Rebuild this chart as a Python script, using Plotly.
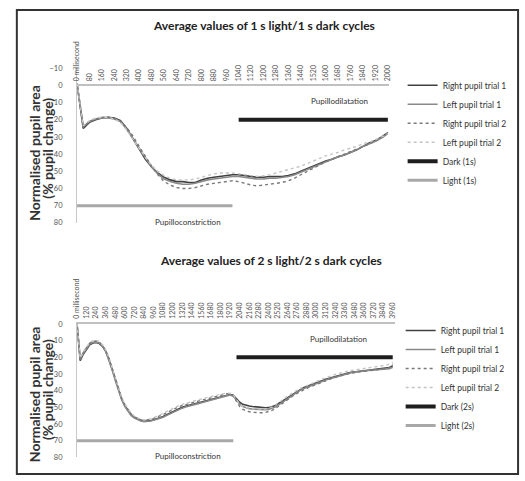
import plotly.graph_objects as go

W, H = 525, 481
FONT = "Lato"

# ---------------- data: 1 s light / 1 s dark ----------------
ms_1s = list(range(0, 2001, 40))
tick_1s = list(range(0, 2001, 80))
tick_1s_text = ["0 millisecond"] + [str(v) for v in tick_1s[1:]]

rt1_1s = [-1, 25, 21.5, 20, 19, 18.5, 19, 20.5, 25, 31,
          37.5, 43, 47.5, 51, 53.5, 55, 56, 56, 56.5, 56.5,
          55, 54, 53.5, 53, 52.5, 52, 52, 52.5, 53, 53.5,
          53.5, 53, 53, 53, 52.5, 51.5, 50, 48.5, 47, 45.5,
          44, 43, 41.5, 40.5, 39, 37.5, 35.5, 33.5, 32, 30, 27.5]
lt1_1s = [-1, 24, 21, 19.5, 19, 19, 19.5, 21, 25.5, 31,
          37, 42.5, 47.5, 51.5, 54.5, 56, 57, 57.5, 57.5, 57,
          56, 55, 54.5, 54, 53.5, 53, 53, 53.5, 54, 54.5,
          54.5, 54, 54, 53.5, 53, 52, 50.5, 49, 47.5, 46,
          44.5, 43, 41.5, 40.5, 39, 37.5, 35.5, 34, 32.5, 30.5, 28]
rt2_1s = [-1, 24.5, 21, 19.5, 18.5, 18.5, 19, 21, 24.5, 29.5,
          35.5, 41.5, 47, 52, 56, 58, 59.5, 60, 60, 59.5,
          58.5, 57.5, 57, 56.5, 56, 55.5, 56, 57, 58, 58.5,
          58, 57.5, 57, 56.5, 55.5, 54, 52, 50, 48, 46,
          44.5, 43, 41.5, 40, 38.5, 37, 35.5, 34, 32.5, 30.5, 28]
lt2_1s = [-1, 23.5, 20.5, 19, 18.5, 18.5, 19.5, 21.5, 26, 31.5,
          37, 42, 46.5, 50, 52.5, 54, 55, 55, 55, 54.5,
          53.5, 52.5, 51.5, 51, 51, 51, 51.5, 52, 52.5, 53,
          52.5, 52, 51, 50, 49, 48, 47, 45.5, 44, 42.5,
          41, 40, 39, 37.5, 36.5, 35.5, 34, 33, 31.5, 30, 28]
dark_1s_x = [1040, 2000]
dark_1s_y = [20, 20]
light_1s_x = [0, 1000]
light_1s_y = [70, 70]

# ---------------- data: 2 s light / 2 s dark ----------------
ms_2s = list(range(0, 3961, 40))
tick_2s = list(range(0, 3961, 120))
tick_2s_text = ["0 millisecond"] + [str(v) for v in tick_2s[1:]]

rt1_2s = [0, 22, 18, 15, 12.5, 11.5, 11.2, 11.8, 13.5, 16.5,
          21, 27, 33.5, 40, 45, 49, 52, 54.5, 56, 57,
          57.8, 58.3, 58.3, 58, 57.5, 57, 56.3, 55.5, 54.5, 53.5,
          52.5, 51.5, 50.8, 50, 49.3, 48.8, 48.3, 47.8, 47.3, 46.8,
          46.3, 45.8, 45.3, 44.8, 44.3, 43.8, 43.2, 42.6, 42.3, 42.8,
          45, 47, 48.2, 48.8, 49.2, 49.5, 49.8, 50, 50.2, 50.3,
          50.2, 49.8, 49, 48, 46.8, 45.5, 44, 42.8, 41.5, 40.3,
          39.2, 38.3, 37.5, 36.7, 36, 35.3, 34.6, 33.9, 33.2, 32.6,
          32, 31.4, 30.8, 30.3, 29.8, 29.4, 29, 28.7, 28.4, 28.2,
          28, 27.8, 27.6, 27.4, 27.2, 27, 26.8, 26.6, 26.2, 25]
lt1_2s = [0, 21, 17.5, 14.5, 12, 11, 10.8, 11.5, 13.2, 16.5,
          21.5, 27.5, 34, 40.5, 45.5, 49.5, 52.5, 55, 56.5, 57.5,
          58.2, 58.6, 58.5, 58.2, 57.8, 57.3, 56.8, 56, 55, 54,
          53, 52, 51.3, 50.5, 49.8, 49.2, 48.7, 48.2, 47.8, 47.3,
          46.8, 46.3, 45.8, 45.3, 44.8, 44.2, 43.6, 43, 42.6, 43.3,
          45.8, 48, 49.5, 50.3, 50.8, 51, 51.2, 51.4, 51.5, 51.5,
          51.3, 50.8, 50, 48.8, 47.5, 46, 44.6, 43.3, 42, 40.8,
          39.7, 38.8, 38, 37.2, 36.5, 35.8, 35, 34.3, 33.6, 33,
          32.4, 31.8, 31.2, 30.6, 30.1, 29.6, 29.2, 28.9, 28.6, 28.4,
          28.2, 28, 27.8, 27.6, 27.4, 27.3, 27.2, 27, 26.8, 26]
rt2_2s = [0, 21.5, 17, 14, 11.5, 10.5, 10.3, 11, 13, 16,
          20.5, 26.5, 33, 39.5, 44.5, 48.5, 51.5, 54, 55.8, 56.8,
          57.5, 57.8, 57.6, 57.2, 56.6, 55.9, 55.2, 54.3, 53.3, 52.3,
          51.3, 50.4, 49.6, 48.9, 48.3, 47.8, 47.3, 46.8, 46.3, 45.8,
          45.3, 44.8, 44.3, 43.8, 43.3, 42.8, 42.3, 41.9, 41.8, 43,
          46.5, 49.5, 51.3, 52.2, 52.7, 53, 53.2, 53.3, 53.3, 53.1,
          52.7, 52, 51, 49.8, 48.3, 46.8, 45.3, 44, 42.8, 41.6,
          40.5, 39.5, 38.6, 37.8, 37, 36.2, 35.4, 34.6, 33.9, 33.2,
          32.6, 32, 31.4, 30.9, 30.4, 29.9, 29.5, 29.1, 28.8, 28.6,
          28.4, 28.2, 28, 27.8, 27.6, 27.4, 27.2, 26.8, 26, 24]
lt2_2s = [0, 20.5, 16.5, 13.5, 11, 10, 9.8, 10.5, 12.5, 15.5,
          20, 26, 32.5, 39, 44, 48, 51, 53.5, 55.3, 56.4,
          57.2, 57.6, 57.5, 57, 56.3, 55.5, 54.6, 53.6, 52.6, 51.6,
          50.6, 49.7, 48.9, 48.2, 47.6, 47, 46.5, 46, 45.5, 45,
          44.5, 44, 43.5, 43, 42.6, 42.2, 41.8, 41.5, 41.6, 42.5,
          45.5, 48, 49.5, 50.2, 50.6, 50.8, 51, 51.1, 51.1, 51,
          50.6, 49.9, 48.9, 47.7, 46.3, 44.8, 43.3, 42, 40.8, 39.7,
          38.7, 37.8, 37, 36.2, 35.4, 34.6, 33.8, 33, 32.2, 31.5,
          30.9, 30.3, 29.7, 29.2, 28.7, 28.3, 27.9, 27.6, 27.3, 27,
          26.8, 26.6, 26.3, 26, 25.7, 25.4, 25.1, 24.7, 24, 23]
dark_2s_x = [2000, 3960]
dark_2s_y = [20, 20]
light_2s_x = [0, 1960]
light_2s_y = [70, 70]

series_names = ["Right pupil trial 1", "Left pupil trial 1",
                "Right pupil trial 2", "Left pupil trial 2"]
styles = [dict(color="#404040", width=1.6, dash="solid"),
          dict(color="#8a8a8a", width=1.6, dash="solid"),
          dict(color="#7a7a7a", width=1.4, dash="dot"),
          dict(color="#c4c4c4", width=1.4, dash="dot")]

fig = go.Figure()

def px_x(p):
    return p / W

def px_y(p):
    return 1 - p / H

# top panel traces
for name, ys, st in zip(series_names, [rt1_1s, lt1_1s, rt2_1s, lt2_1s], styles):
    fig.add_trace(go.Scatter(x=ms_1s, y=ys, mode="lines", name=name, line=st,
                             xaxis="x", yaxis="y", legend="legend"))
fig.add_trace(go.Scatter(x=dark_1s_x, y=dark_1s_y, mode="lines", name="Dark (1s)",
                         line=dict(color="#1e1e1e", width=4), xaxis="x", yaxis="y", legend="legend"))
fig.add_trace(go.Scatter(x=light_1s_x, y=light_1s_y, mode="lines", name="Light (1s)",
                         line=dict(color="#a8a8a8", width=3), xaxis="x", yaxis="y", legend="legend"))

# bottom panel traces
for name, ys, st in zip(series_names, [rt1_2s, lt1_2s, rt2_2s, lt2_2s], styles):
    fig.add_trace(go.Scatter(x=ms_2s, y=ys, mode="lines", name=name, line=st,
                             xaxis="x2", yaxis="y2", legend="legend2"))
fig.add_trace(go.Scatter(x=dark_2s_x, y=dark_2s_y, mode="lines", name="Dark (2s)",
                         line=dict(color="#1e1e1e", width=4), xaxis="x2", yaxis="y2", legend="legend2"))
fig.add_trace(go.Scatter(x=light_2s_x, y=light_2s_y, mode="lines", name="Light (2s)",
                         line=dict(color="#a8a8a8", width=3), xaxis="x2", yaxis="y2", legend="legend2"))

xcommon = dict(side="top", tickangle=-90, showgrid=False, zeroline=False,
               showline=True, linecolor="#c0c0c0", linewidth=1.5, ticks="",
               tickfont=dict(family=FONT, size=7, color="#555555"), ticklabelstandoff=2)
ycommon = dict(showgrid=False, zeroline=False, showline=True, linecolor="#c8c8c8",
               linewidth=1, ticks="", dtick=10,
               tickfont=dict(family=FONT, size=7.5, color="#555555"), ticklabelstandoff=12)

fig.update_layout(
    width=W, height=H, autosize=False,
    margin=dict(l=0, r=0, t=0, b=0),
    paper_bgcolor="white", plot_bgcolor="white",
    font=dict(family=FONT, color="#333333"),
    xaxis=dict(domain=[px_x(73), px_x(389)], range=[0, 2006], anchor="free",
               position=px_y(83), tickvals=tick_1s, ticktext=tick_1s_text, **xcommon),
    yaxis=dict(domain=[px_y(223), px_y(65.5)], range=[80, -10], anchor="x",
               tickvals=list(range(-10, 81, 10)), **ycommon),
    xaxis2=dict(domain=[px_x(73), px_x(395)], range=[0, 3985], anchor="y2",
                tickvals=tick_2s, ticktext=tick_2s_text, **xcommon),
    yaxis2=dict(domain=[px_y(462), px_y(326)], range=[80, 0], anchor="x2",
                tickvals=list(range(0, 81, 10)), **ycommon),
    legend=dict(x=px_x(403), y=px_y(68), xanchor="left", yanchor="top",
                font=dict(family=FONT, size=8.5, color="#333333"),
                bgcolor="rgba(0,0,0,0)", itemwidth=30),
    legend2=dict(x=px_x(401), y=px_y(318), xanchor="left", yanchor="top",
                 font=dict(family=FONT, size=8.5, color="#333333"),
                 bgcolor="rgba(0,0,0,0)", itemwidth=30),
    showlegend=True,
)

ann_font = dict(family=FONT, size=8, color="#333333")
title_font = dict(family=FONT, size=12, color="#222222")
ytitle_font = dict(family=FONT, size=14, color="#333333")
annotations = [
    dict(text="<b>Average values of 1 s light/1 s dark cycles</b>", x=px_x(262), y=px_y(22),
         xref="paper", yref="paper", showarrow=False, font=title_font,
         xanchor="center", yanchor="middle"),
    dict(text="<b>Average values of 2 s light/2 s dark cycles</b>", x=px_x(270), y=px_y(261),
         xref="paper", yref="paper", showarrow=False, font=title_font,
         xanchor="center", yanchor="middle"),
    dict(text="Pupillodilatation", x=1690, y=9, xref="x", yref="y", showarrow=False, font=ann_font),
    dict(text="Pupilloconstriction", x=717, y=79.4, xref="x", yref="y", showarrow=False, font=ann_font),
    dict(text="Pupillodilatation", x=3280, y=8.8, xref="x2", yref="y2", showarrow=False, font=ann_font),
    dict(text="Pupilloconstriction", x=1398, y=79.4, xref="x2", yref="y2", showarrow=False, font=ann_font),
]
for cy in (152, 398):
    annotations.append(dict(text="<b>Normalised pupil area</b>", x=px_x(30), y=px_y(cy),
                            xref="paper", yref="paper", showarrow=False, textangle=-90,
                            xanchor="center", yanchor="middle", font=ytitle_font))
    annotations.append(dict(text="<b>(% pupil change)</b>", x=px_x(43), y=px_y(cy - 5),
                            xref="paper", yref="paper", showarrow=False, textangle=-90,
                            xanchor="center", yanchor="middle", font=ytitle_font))
fig.update_layout(annotations=annotations)

fig.add_shape(type="rect", xref="paper", yref="paper",
              x0=px_x(12), y0=px_y(479), x1=px_x(520), y1=px_y(6),
              line=dict(color="#333333", width=2))

fig.write_html("out.html")
